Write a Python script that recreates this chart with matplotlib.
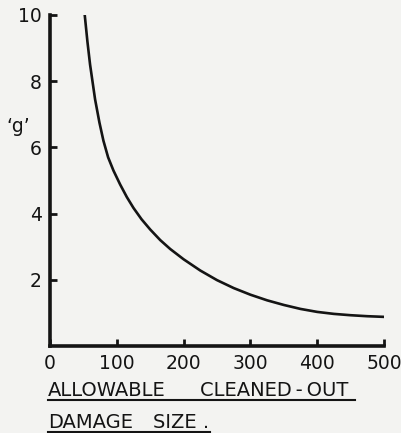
import matplotlib
matplotlib.use("Agg")
from matplotlib import pyplot as plt
from matplotlib.lines import Line2D

# curve
damage_size = [52, 56, 60, 67.5, 74, 80, 87, 95, 105, 115, 125, 137, 150, 165, 180,
               200, 225, 250, 275, 300, 325, 350, 375, 400, 425, 450, 475, 500]
g_level = [10.0, 9.2, 8.5, 7.45, 6.75, 6.2, 5.7, 5.3, 4.88, 4.5, 4.17, 3.83, 3.52, 3.2, 2.93,
           2.62, 2.28, 1.99, 1.75, 1.55, 1.38, 1.24, 1.12, 1.03, 0.97, 0.93, 0.90, 0.88]

xticks = [0, 100, 200, 300, 400, 500]
yticks = [2, 4, 6, 8, 10]

W, H = 401, 433
ink = '#141414'
paper = '#f3f3f1'

fig = plt.figure(figsize=(W/100, H/100), dpi=100, facecolor=paper)
# axes box in pixel units -> figure fractions
left, right, bottom, top = 50, 384, 346, 15
ax = fig.add_axes([left/W, 1-bottom/H, (right-left)/W, (bottom-top)/H])
ax.set_facecolor(paper)

ax.plot(damage_size, g_level, color=ink, lw=1.9, solid_joinstyle='round')

ax.set_xlim(0, 500)
ax.set_ylim(0, 10)
ax.set_xticks(xticks)
ax.set_yticks(yticks)
ax.tick_params(direction='in', length=5, width=2, colors=ink, labelsize=13.5, pad=6)
for sp in ['top', 'right']:
    ax.spines[sp].set_visible(False)
for sp in ['left', 'bottom']:
    ax.spines[sp].set_linewidth(2.6)
    ax.spines[sp].set_color(ink)

# y label ('g' with quote marks)
fig.text(18/W, 1-127/H, '\u2018g\u2019', fontsize=13.5, color=ink, ha='center', va='center')

# underlined x label, two lines
def word(x, y, s):
    fig.text(x/W, 1-y/H, s, fontsize=14, color=ink, ha='left', va='baseline')

word(48, 396, 'ALLOWABLE')
word(200, 396, 'CLEANED\u2009-\u2009OUT')
word(48, 428, 'DAMAGE')
word(153, 428, 'SIZE .')
fig.add_artist(Line2D([48/W, 355/W], [1-400/H, 1-400/H], color=ink, lw=1.5))
fig.add_artist(Line2D([48/W, 210/W], [1-432/H, 1-432/H], color=ink, lw=1.5))

fig.savefig('out.png', dpi=100, facecolor=paper)
